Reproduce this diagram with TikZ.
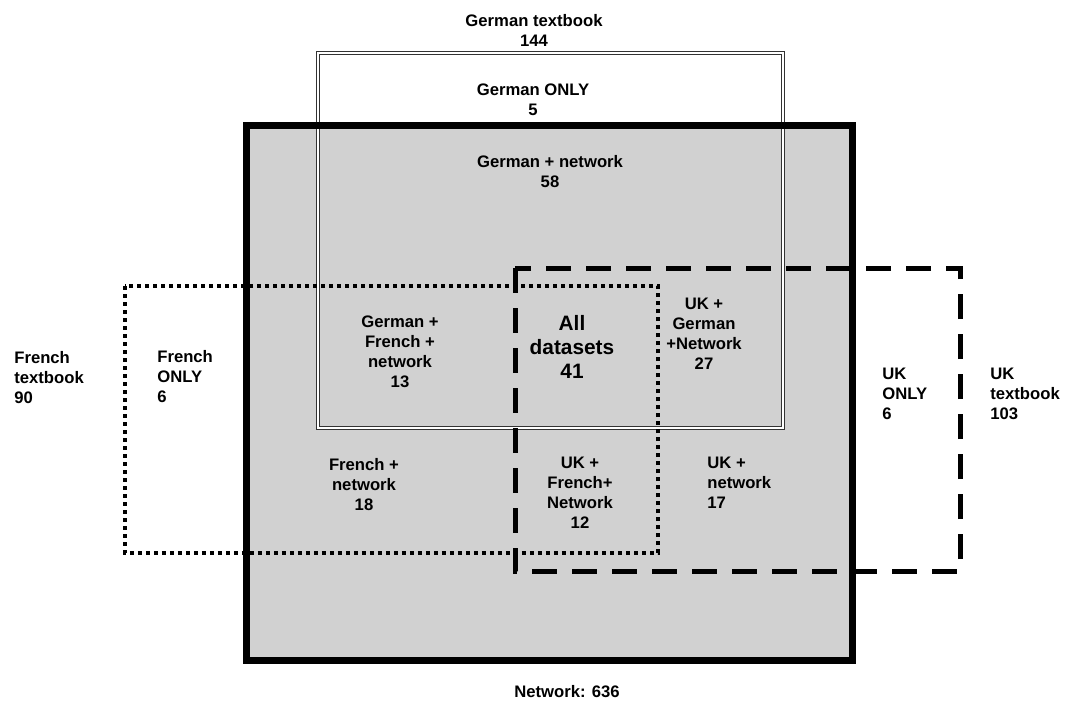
\documentclass[tikz,border=0pt]{standalone}
\usepackage{fontspec}
\setmainfont{Liberation Sans}

\begin{document}
\begin{tikzpicture}[x=0.6pt,y=-0.6pt,
  lbl/.style={font=\bfseries\fontsize{10}{12}\selectfont,align=center,inner sep=0pt},
  lbll/.style={lbl,align=left,anchor=west},
  big/.style={font=\bfseries\fontsize{12.5}{14.5}\selectfont,align=center,inner sep=0pt},
  netbox/.style={line width=4.2pt},
  germanbox/.style={double,double distance=1.2pt,line width=0.6pt,draw=black!80},
  frenchbox/.style={line width=2.4pt,dash pattern=on 2.4pt off 2.4pt},
  ukbox/.style={line width=3pt,dash pattern=on 15pt off 9pt}]
\useasboundingbox (0,0) rectangle (1067,704);
\fill[black!18] (246,125) rectangle (852,660);
\draw[germanbox] (318,53) rectangle (783,428);
\draw[netbox] (246,125) rectangle (852,660);
\draw[frenchbox] (125,286) rectangle (658,553);
\draw[ukbox] (515,268) rectangle (960,571);
%\fill[black!40] (246,125) rectangle (852,660);
\node[lbl] (gtb) at (534,30) {German textbook\\144};
\node[lbl] (gonly) at (533,100) {German ONLY\\5};
\node[lbl] (gnet) at (550,172) {German + network\\58};
\node[lbl] (gfn) at (400,352) {German +\\French +\\network\\13};
\node[big] (all) at (572,347) {All\\datasets\\41};
\node[lbl] (ukgn) at (704,334) {UK +\\German\\+Network\\27};
\node[lbll] (ftb) at (14,378) {French\\textbook\\90};
\node[lbll] (fonly) at (157,377) {French\\ONLY\\6};
\node[lbl] (fnet) at (364,485) {French +\\network\\18};
\node[lbl] (ukfn) at (580,493) {UK +\\French+\\Network\\12};
\node[lbll] (uknet) at (707,483) {UK +\\network\\17};
\node[lbll] (ukonly) at (882,394) {UK\\ONLY\\6};
\node[lbll] (uktb) at (990,394) {UK\\textbook\\103};
\node[lbl] (net) at (567,692) {Network: 636};
\end{tikzpicture}
\end{document}
